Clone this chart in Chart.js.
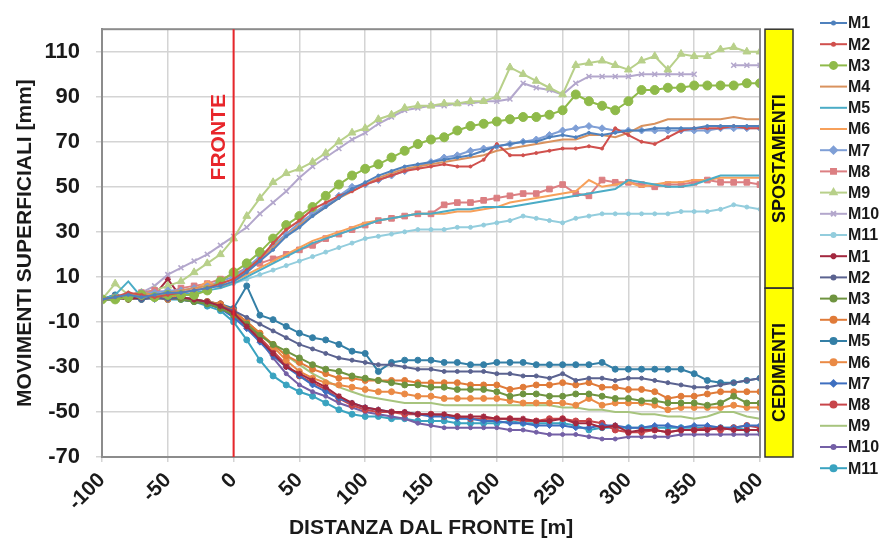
<!DOCTYPE html>
<html>
<head>
<meta charset="utf-8">
<script src="https://cdn.jsdelivr.net/npm/chart.js@4.4.0/dist/chart.umd.min.js"></script>
<style>
  html, body { margin: 0; padding: 0; background: #fff; }
  #wrap { width: 885px; height: 541px; }
</style>
</head>
<body>
<div id="wrap"><canvas id="chart" width="885" height="541"></canvas></div>
<script>
// distanza dal fronte [m]
const distances = [-100, -90, -80, -70, -60, -50, -40, -30, -20, -10,
  0, 10, 20, 30, 40, 50, 60, 70, 80, 90,
  100, 110, 120, 130, 140, 150, 160, 170, 180, 190,
  200, 210, 220, 230, 240, 250, 260, 270, 280, 290,
  300, 310, 320, 330, 340, 350, 360, 370, 380, 390, 400];

const xTickValues = [-100, -50, 0, 50, 100, 150, 200, 250, 300, 350, 400];
const yTickValues = [-70, -50, -30, -10, 10, 30, 50, 70, 90, 110];
const seriesNames = ['M1', 'M2', 'M3', 'M4', 'M5', 'M6', 'M7', 'M8', 'M9', 'M10', 'M11'];

// spostamenti (mm)
const spostM1 = [0,1,2,1,2,3,3,4,5,6,8, 12,17,22,28,32,37,41,45,49,52, 55,57,59,60,61,62,63,64,66,68, 69,70,70,72,73,72,74,73,74,75, 75,76,76,76,76,77,77,77,77,77];
const spostM2 = [0,1,3,2,1,2,3,4,5,7,9, 13,18,25,31,35,40,43,46,48,51, 53,55,57,58,59,60,59,59,62,69, 64,64,65,66,67,67,68,67,76,73, 70,69,72,75,76,76,76,77,76,76];
const spostM3 = [0,0,1,2,1,2,2,2,4,8,12, 16,21,27,33,37,41,46,51,55,58, 60,63,66,69,71,72,75,77,78,79, 80,81,81,82,84,91,88,86,84,88, 93,93,94,94,95,95,95,95,96,96];
const spostM4 = [0,1,2,3,2,3,4,5,6,7,9, 13,18,23,28,33,37,41,45,48,51, 54,56,58,59,60,61,62,63,64,66, 67,68,69,70,71,71,73,73,72,74, 77,78,80,80,80,80,80,81,80,80];
const spostM5 = [0,2,8,1,2,3,2,3,4,5,7, 10,13,16,19,22,25,27,29,31,33, 35,36,37,38,38,39,40,40,41,41, 41,42,43,44,45,46,47,48,49,53, 52,51,50,50,51,53,55,55,55,55];
const spostM6 = [0,1,2,3,2,1,3,4,8,5,8, 11,14,17,20,23,26,28,30,32,34, 35,36,37,38,38,38,39,39,40,41, 43,44,45,46,47,48,53,50,51,52, 50,51,52,52,53,53,54,54,54,54];
const spostM7 = [0,1,2,3,3,4,4,5,6,8,10, 14,19,24,29,34,38,42,46,50,51, 53,55,57,59,61,63,64,66,67,68, 69,70,71,73,75,76,77,76,75,75, 75,75,75,75,75,75,76,76,76,76];
const spostM8 = [0,1,2,3,4,3,5,6,7,9,11, 14,16,18,20,22,24,27,29,31,33, 35,36,37,38,38,42,43,43,44,45, 46,47,47,49,51,47,46,53,52,52, 51,50,51,51,52,53,52,52,52,51];
const spostM9 = [0,7,2,3,4,6,8,12,16,20,27, 37,45,52,56,58,61,65,70,74,76, 80,82,85,86,86,87,87,88,88,90, 103,100,97,94,91,104,105,106,104,102, 106,108,102,109,108,108,111,112,110,110];
const spostM10 = [0,1,2,3,6,11,14,17,20,24,28, 32,38,43,48,54,59,63,67,71,74, 78,81,84,85,86,86,87,87,88,88, 89,96,94,93,91,96,99,99,99,99, 100,100,100,100,100,null,null,104,104,104];
const spostM11 = [0,1,2,1,2,3,3,4,5,6,7, 9,11,13,15,17,19,21,23,25,27, 28,29,30,31,31,31,32,32,33,34, 35,37,36,35,34,36,37,38,38,38, 38,38,38,39,39,39,40,42,41,40];

// cedimenti (mm)
const cedM1 = [0,1,0,1,2,9,1,0,-1,-3,-6, -12,-18,-24,-30,-33,-36,-39,-43,-46,-48, -49,-50,-50,-51,-51,-51,-52,-52,-52,-53, -53,-53,-54,-54,-53,-55,-55,-57,-56,-59, -58,-58,-59,-58,-58,-58,-57,-58,-58,-58];
const cedM2 = [0,0,1,0,1,0,1,0,-1,-3,-5, -8,-11,-14,-17,-20,-22,-24,-26,-27,-28, -29,-29,-30,-31,-31,-32,-32,-32,-32,-33, -33,-34,-34,-35,-33,-36,-35,-35,-36,-35, -35,-36,-37,-38,-39,-39,-38,-37,-36,-35];
const cedM3 = [0,1,0,1,2,1,0,-1,-2,-4,-7, -11,-16,-20,-23,-26,-29,-31,-32,-34,-35, -36,-37,-38,-38,-39,-39,-40,-40,-40,-41, -43,-42,-42,-43,-43,-42,-42,-43,-44,-44, -45,-45,-46,-46,-46,-47,-46,-43,-46,-46];
const cedM4 = [0,1,1,2,1,0,1,0,-1,-2,-5, -10,-15,-20,-25,-28,-31,-33,-35,-35,-36, -36,-36,-36,-37,-37,-37,-37,-38,-38,-38, -40,-39,-38,-38,-37,-38,-37,-39,-39,-40, -40,-41,-44,-43,-43,-42,-41,-41,-41,-41];
const cedM5 = [0,2,1,0,1,0,1,0,-1,-2,-4, 6,-7,-9,-12,-15,-17,-18,-20,-23,-24, -32,-28,-27,-27,-27,-28,-28,-29,-29,-28, -28,-28,-29,-29,-29,-29,-29,-28,-31,-31, -31,-31,-31,-31,-33,-36,-37,-37,-36,-35];
const cedM6 = [0,1,2,1,3,2,1,0,-1,-3,-6, -10,-15,-21,-27,-32,-35,-37,-38,-39,-40, -41,-41,-42,-43,-43,-44,-44,-44,-44,-44, -45,-46,-46,-46,-46,-47,-44,-47,-46,-46, -46,-47,-49,-48,-48,-48,-48,-47,-48,-48];
const cedM7 = [0,0,1,1,0,1,0,-1,-2,-4,-8, -13,-19,-25,-30,-34,-38,-41,-44,-46,-48, -49,-50,-50,-51,-52,-52,-53,-53,-54,-54, -55,-55,-56,-56,-56,-57,-57,-56,-56,-57, -57,-56,-56,-57,-56,-56,-57,-57,-56,-56];
const cedM8 = [0,0,1,0,1,2,1,0,-1,-2,-5, -11,-17,-23,-29,-34,-37,-40,-44,-47,-49, -50,-50,-51,-51,-51,-52,-52,-53,-53,-53, -53,-54,-54,-53,-53,-54,-54,-55,-58,-59, -59,-58,-59,-58,-58,-57,-58,-57,-56,-57];
const cedM9 = [0,2,1,1,0,1,0,-1,-2,-3,-6, -10,-15,-20,-25,-29,-33,-36,-39,-41,-43, -44,-45,-46,-46,-46,-47,-47,-47,-47,-47, -47,-47,-47,-47,-48,-48,-49,-49,-50,-50, -51,-51,-52,-52,-53,-52,-50,-50,-52,-53];
const cedM10 = [0,1,0,1,1,1,0,-1,-2,-4,-7, -12,-18,-26,-33,-38,-41,-43,-46,-48,-50, -51,-52,-53,-55,-56,-57,-57,-57,-57,-57, -58,-58,-59,-60,-60,-60,-61,-62,-62,-61, -61,-61,-61,-60,-60,-60,-60,-60,-60,-60];
const cedM11 = [0,1,2,1,1,0,0,-1,-3,-5,-10, -18,-27,-34,-38,-41,-43,-46,-49,-51,-52, -52,-53,-53,-54,-54,-54,-55,-55,-55,-55, -54,-55,-55,-55,-55,-56,-58,-57,-57,-57, -57,-57,-57,-57,-57,-57,-57,-57,-58,-58];

const spostSeries = [spostM1, spostM2, spostM3, spostM4, spostM5, spostM6, spostM7, spostM8, spostM9, spostM10, spostM11];
const cedSeries = [cedM1, cedM2, cedM3, cedM4, cedM5, cedM6, cedM7, cedM8, cedM9, cedM10, cedM11];

// styles
const spostColors = ['#4f81bd', '#d0504d', '#8fba4a', '#d9925e', '#4bacc6', '#f7a05a', '#7f9fd6', '#dc7f82', '#b8d08a', '#b3a7cc', '#93cddd'];
const spostMarkers = [['circle', 1.5], ['circle', 1.5], ['circle', 4.5], ['circle', 0], ['circle', 0], ['circle', 0],
  ['rectRot', 3.5], ['rect', 4], ['triangle', 4.5], ['crossRot', 3.5], ['circle', 2]];
const cedColors = ['#a3283f', '#5b6390', '#6f9440', '#e07b39', '#347fa6', '#ea8a45', '#3e6fc0', '#c8454a', '#a7c47e', '#7460a6', '#3aa3c0'];
const cedMarkers = [['star', 3], ['circle', 2], ['circle', 3], ['circle', 3], ['circle', 3], ['circle', 3],
  ['rectRot', 3], ['circle', 3], ['circle', 0], ['circle', 2], ['circle', 3]];

function toPoints(vals) {
  return distances.map((d, i) => ({ x: d, y: vals[i] }));
}

function makeDataset(name, vals, color, marker) {
  return {
    label: name,
    data: toPoints(vals),
    borderColor: color,
    backgroundColor: color,
    pointBackgroundColor: color,
    pointBorderColor: color,
    pointStyle: marker[0],
    pointRadius: marker[1],
    pointBorderWidth: marker[0] === 'crossRot' || marker[0] === 'star' ? 1.5 : 1,
    borderWidth: 2,
    tension: 0,
    spanGaps: false,
    fill: false
  };
}

const datasets = [];
spostSeries.forEach((s, i) => datasets.push(makeDataset(seriesNames[i], s, spostColors[i], spostMarkers[i])));
cedSeries.forEach((s, i) => datasets.push(makeDataset(seriesNames[i], s, cedColors[i], cedMarkers[i])));

function marker(ctx, style, r, x, y) {
  if (r <= 0) return;
  if (Chart.helpers && Chart.helpers.drawPoint) {
    Chart.helpers.drawPoint(ctx, { pointStyle: style, radius: r, rotation: 0, borderWidth: 1.5 }, x, y);
  } else {
    ctx.beginPath(); ctx.arc(x, y, r, 0, Math.PI * 2); ctx.fill();
  }
}

const overlayPlugin = {
  id: 'overlay',
  afterDatasetsDraw(chart) {
    const { ctx, chartArea: a, scales } = chart;
    const x = scales.x, y = scales.y;
    ctx.save();
    // plot frame
    ctx.strokeStyle = '#8c8c8c';
    ctx.lineWidth = 2;
    ctx.strokeRect(a.left, a.top, a.right - a.left, a.bottom - a.top);

    // fronte
    const x0 = x.getPixelForValue(0);
    ctx.strokeStyle = '#e8262b';
    ctx.lineWidth = 2;
    ctx.beginPath();
    ctx.moveTo(x0, a.top);
    ctx.lineTo(x0, a.bottom);
    ctx.stroke();
    ctx.save();
    ctx.translate(x0 - 14, y.getPixelForValue(72));
    ctx.rotate(-Math.PI / 2);
    ctx.fillStyle = '#e8262b';
    ctx.font = 'bold 21px "Liberation Sans", Arial, sans-serif';
    ctx.textAlign = 'center';
    ctx.textBaseline = 'middle';
    ctx.fillText('FRONTE', 0, 0);
    ctx.restore();
    ctx.restore();
  },
  afterDraw(chart) {
    const { ctx, chartArea: a, scales } = chart;
    const y = scales.y;
    ctx.save();
    // yellow boxes
    const bx = a.right + 5, bw = 28;
    const split = y.getPixelForValue(5);
    ctx.fillStyle = '#ffff00';
    ctx.strokeStyle = '#333333';
    ctx.lineWidth = 1.5;
    ctx.fillRect(bx, a.top, bw, a.bottom - a.top);
    ctx.strokeRect(bx, a.top, bw, split - a.top);
    ctx.strokeRect(bx, split, bw, a.bottom - split);
    ctx.fillStyle = '#111111';
    ctx.font = 'bold 18px "Liberation Sans", Arial, sans-serif';
    ctx.textAlign = 'center';
    ctx.textBaseline = 'middle';
    [['SPOSTAMENTI', (a.top + split) / 2], ['CEDIMENTI', (split + a.bottom) / 2]].forEach(([t, cy]) => {
      ctx.save();
      ctx.translate(bx + bw / 2 + 1, cy);
      ctx.rotate(-Math.PI / 2);
      ctx.fillText(t, 0, 0);
      ctx.restore();
    });

    // legend
    const lx0 = 820, lx1 = 847, ly0 = 23, step = 21.2;
    chart.data.datasets.forEach((ds, i) => {
      const ly = ly0 + i * step;
      ctx.strokeStyle = ds.borderColor;
      ctx.fillStyle = ds.borderColor;
      ctx.lineWidth = 2;
      ctx.beginPath();
      ctx.moveTo(lx0, ly);
      ctx.lineTo(lx1, ly);
      ctx.stroke();
      marker(ctx, ds.pointStyle, Math.min(ds.pointRadius, 3.5), (lx0 + lx1) / 2, ly);
      ctx.fillStyle = '#1a1a1a';
      ctx.font = 'bold 16px "Liberation Sans", Arial, sans-serif';
      ctx.textAlign = 'left';
      ctx.textBaseline = 'middle';
      ctx.fillText(ds.label, lx1 + 1, ly + 1);
    });
    ctx.restore();
  }
};

Chart.defaults.font.family = '"Liberation Sans", Arial, sans-serif';

new Chart(document.getElementById('chart'), {
  type: 'line',
  data: { datasets: datasets },
  options: {
    responsive: false,
    devicePixelRatio: 1,
    animation: false,
    layout: { padding: { left: 8, right: 125, top: 22, bottom: 0 } },
    plugins: { legend: { display: false }, tooltip: { enabled: false } },
    scales: {
      x: {
        type: 'linear',
        min: -100,
        max: 400,
        afterBuildTicks: s => { s.ticks = xTickValues.map(v => ({ value: v })); },
        afterFit: s => { s.height = 84; },
        grid: { color: '#d4d4d4', lineWidth: 1.5, tickLength: 5 },
        border: { display: true, color: '#8c8c8c', width: 2 },
        ticks: { minRotation: 45, maxRotation: 45, padding: 6, color: '#1a1a1a', font: { size: 21, weight: 'bold' } },
        title: { display: true, text: 'DISTANZA DAL FRONTE [m]', color: '#1a1a1a', font: { size: 21, weight: 'bold' }, padding: { top: 0, bottom: 0 } }
      },
      y: {
        min: -70,
        max: 120,
        afterBuildTicks: s => { s.ticks = yTickValues.map(v => ({ value: v })); },
        afterFit: s => { s.width = 94; },
        grid: { color: '#d4d4d4', lineWidth: 1.5, tickLength: 6 },
        border: { display: true, color: '#8c8c8c', width: 2 },
        ticks: { padding: 16, color: '#1a1a1a', font: { size: 22, weight: 'bold' } },
        title: { display: true, text: 'MOVIMENTI SUPERFICIALI [mm]', color: '#1a1a1a', font: { size: 21, weight: 'bold' }, padding: { top: 5, bottom: 0 } }
      }
    }
  },
  plugins: [overlayPlugin]
});
</script>
</body>
</html>
